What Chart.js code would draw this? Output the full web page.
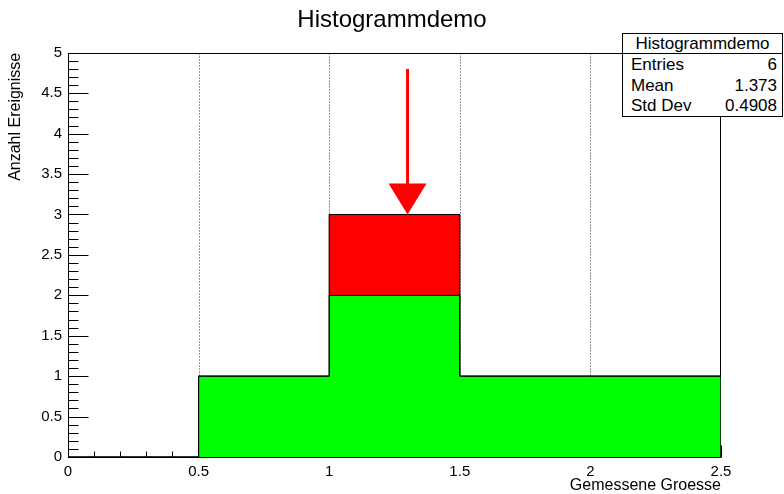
<!DOCTYPE html>
<html>
<head>
<meta charset="utf-8">
<script src="https://cdn.jsdelivr.net/npm/chart.js@4/dist/chart.umd.min.js"></script>
<style>
  html, body { margin: 0; padding: 0; background: #fff; }
  #wrap { position: relative; width: 784px; height: 494px; }
  #stats {
    position: absolute; left: 622px; top: 33px; width: 159px;
    border: 1px solid #000; background: #fff; color: #000;
    font: 17px "Liberation Sans", Arial, sans-serif;
  }
  #stats .head { text-align: center; height: 19px; line-height: 19px; border-bottom: 1px solid #000; }
  #stats .row { display: flex; justify-content: space-between; height: 20.5px; line-height: 21px; padding: 0 5px 0 8px; }
</style>
</head>
<body>
<div id="wrap">
  <canvas id="chart" width="784" height="494"></canvas>
  <div id="stats"></div>
</div>
<script>
// histogram bins
const binCenters = [0.25, 0.75, 1.25, 1.75, 2.25];
const binEdges = [0, 0.5, 1, 1.5, 2, 2.5];
const greenCounts = [0, 1, 2, 1, 1];
const redCounts = [0, 0, 1, 0, 0];

// arrow marker (x value, from y, to y)
const arrowX = 1.3;
const arrowFromY = 4.8;
const arrowToY = 3;

// stats box
const statsTitle = 'Histogrammdemo';
const statLabels = ['Entries', 'Mean', 'Std Dev'];
const statValues = ['6', '1.373', '0.4908'];

const FONT = '"Liberation Sans", Arial, sans-serif';

const totalCounts = greenCounts.map((g, i) => g + redCounts[i]);
const outline = counts => binEdges.map((x, i) => ({ x, y: i < counts.length ? counts[i] : 0 }));

const fmt = v => String(Number(v.toFixed(1)));

// stats box as html
const stats = document.getElementById('stats');
stats.innerHTML = `<div class="head">${statsTitle}</div>` +
  statLabels.map((l, i) => `<div class="row"><span>${l}</span><span>${statValues[i]}</span></div>`).join('');

const frameAndTicks = {
  id: 'frameAndTicks',
  beforeDatasetsDraw(chart) {
    const { ctx, chartArea: a, scales: { x, y } } = chart;
    const L = Math.round(a.left) + 0.5, R = Math.round(a.right) - 0.5;
    const T = Math.round(a.top) + 0.5, B = Math.round(a.bottom) + 0.5;
    ctx.save();

    // dotted vertical grid at labelled x ticks
    ctx.strokeStyle = '#333';
    ctx.lineWidth = 1;
    ctx.setLineDash([1, 2]);
    x.ticks.forEach(t => {
      if (t.value <= x.min || t.value >= x.max) return;
      const px = Math.round(x.getPixelForValue(t.value)) + 0.5;
      ctx.beginPath();
      ctx.moveTo(px, T);
      ctx.lineTo(px, B);
      ctx.stroke();
    });
    ctx.setLineDash([]);

    // inward tick marks, minor every 0.1
    ctx.strokeStyle = '#000';
    const nx = Math.round((x.max - x.min) / 0.1);
    for (let i = 1; i <= nx; i++) {
      const v = x.min + i * 0.1;
      const major = i % 5 === 0;
      const px = Math.round(x.getPixelForValue(v)) + 0.5;
      ctx.beginPath();
      ctx.moveTo(px, B);
      ctx.lineTo(px, B - (major ? 12 : 6));
      ctx.stroke();
    }
    const ny = Math.round((y.max - y.min) / 0.1);
    for (let i = 1; i <= ny; i++) {
      const v = y.min + i * 0.1;
      const major = i % 5 === 0;
      const py = Math.round(y.getPixelForValue(v)) + 0.5;
      ctx.beginPath();
      ctx.moveTo(L, py);
      ctx.lineTo(L + (major ? 20 : 10), py);
      ctx.stroke();
    }

    // frame
    ctx.strokeRect(L, T, R - L, B - T);
    ctx.restore();
  },
  afterDatasetsDraw(chart) {
    const { ctx, scales: { x, y } } = chart;
    const px = x.getPixelForValue(arrowX);
    const y0 = y.getPixelForValue(arrowFromY);
    const y1 = y.getPixelForValue(arrowToY);
    const headLen = 31, headHalf = 19;
    ctx.save();
    ctx.strokeStyle = '#ff0000';
    ctx.fillStyle = '#ff0000';
    ctx.lineWidth = 3;
    ctx.beginPath();
    ctx.moveTo(px, y0);
    ctx.lineTo(px, y1 - headLen + 1);
    ctx.stroke();
    ctx.beginPath();
    ctx.moveTo(px - headHalf, y1 - headLen);
    ctx.lineTo(px + headHalf, y1 - headLen);
    ctx.lineTo(px, y1);
    ctx.closePath();
    ctx.fill();
    ctx.restore();
  }
};

new Chart(document.getElementById('chart').getContext('2d'), {
  type: 'bar',
  data: {
    datasets: [
      {
        type: 'line',
        data: outline(totalCounts),
        stepped: 'before',
        borderColor: '#000',
        borderWidth: 1,
        pointRadius: 0,
        fill: false,
        order: 0
      },
      {
        type: 'line',
        data: outline(greenCounts),
        stepped: 'before',
        borderColor: '#000',
        borderWidth: 1,
        pointRadius: 0,
        fill: false,
        order: 0
      },
      {
        label: 'green',
        data: binCenters.map((c, i) => ({ x: c, y: greenCounts[i] })),
        backgroundColor: '#00ff00',
        borderWidth: 0,
        stack: 'hist',
        barPercentage: 1,
        categoryPercentage: 1,
        order: 1
      },
      {
        label: 'red',
        data: binCenters.map((c, i) => ({ x: c, y: redCounts[i] })),
        backgroundColor: '#ff0000',
        borderWidth: 0,
        stack: 'hist',
        barPercentage: 1,
        categoryPercentage: 1,
        order: 1
      }
    ]
  },
  options: {
    responsive: false,
    animation: false,
    layout: { padding: 0 },
    plugins: {
      legend: { display: false },
      tooltip: { enabled: false },
      title: {
        display: true,
        text: 'Histogrammdemo',
        color: '#000',
        font: { family: FONT, size: 24, weight: 'normal', lineHeight: 1.2 },
        padding: { top: 6, bottom: 18 }
      }
    },
    scales: {
      x: {
        type: 'linear',
        min: 0,
        max: 2.5,
        offset: false,
        grid: { display: false, drawTicks: false, offset: false },
        border: { display: false },
        ticks: {
          stepSize: 0.5,
          autoSkip: false,
          maxRotation: 0,
          padding: 6,
          color: '#000',
          font: { family: FONT, size: 15 },
          callback: v => fmt(v)
        },
        title: {
          display: true,
          text: 'Gemessene Groesse',
          align: 'end',
          color: '#000',
          font: { family: FONT, size: 16, lineHeight: 1 },
          padding: 0
        },
        afterFit: s => { s.height = 37; }
      },
      y: {
        min: 0,
        max: 5,
        grid: { display: false, drawTicks: false },
        border: { display: false },
        ticks: {
          stepSize: 0.5,
          autoSkip: false,
          padding: 6,
          color: '#000',
          font: { family: FONT, size: 15 },
          callback: v => fmt(v)
        },
        title: {
          display: true,
          text: 'Anzahl Ereignisse',
          align: 'end',
          color: '#000',
          font: { family: FONT, size: 16, lineHeight: 1 },
          padding: { top: 8, bottom: 0 }
        },
        afterFit: s => { s.width = 68; }
      },
      yRight: {
        position: 'right',
        min: 0,
        max: 1,
        grid: { display: false, drawTicks: false },
        border: { display: false },
        ticks: { display: false },
        afterFit: s => { s.width = 63; }
      }
    }
  },
  plugins: [frameAndTicks]
});
</script>
</body>
</html>
